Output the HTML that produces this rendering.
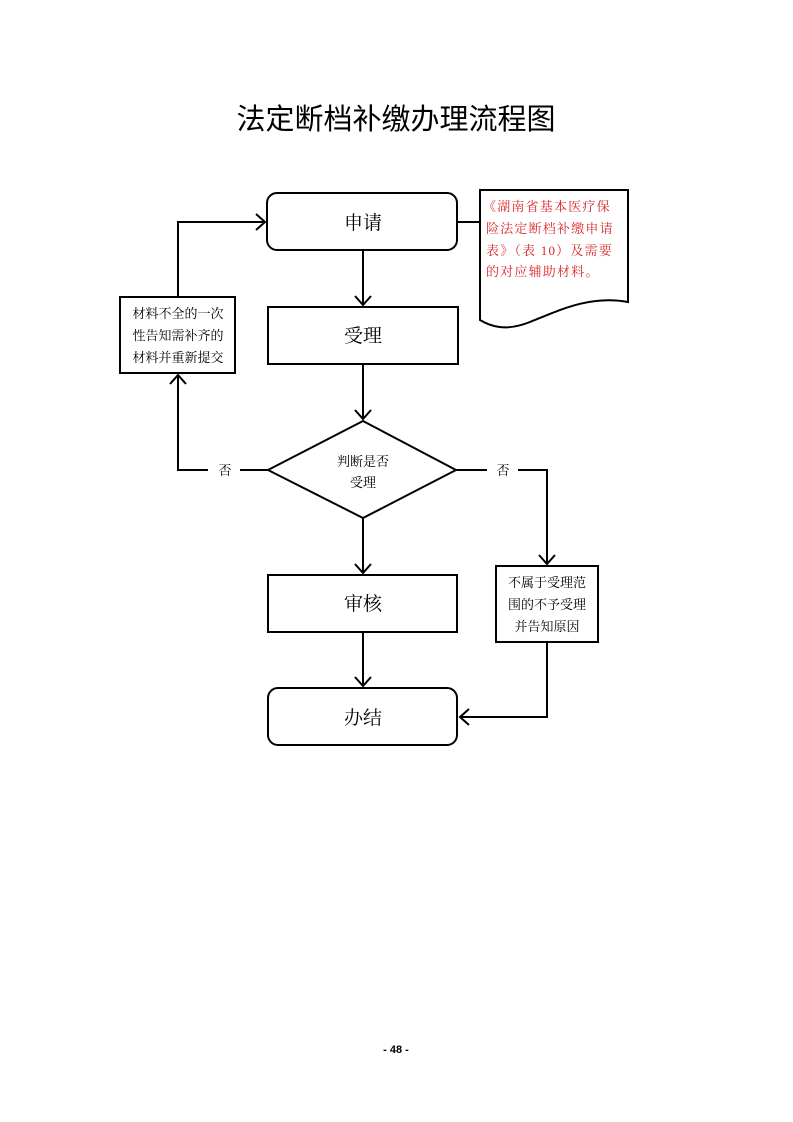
<!DOCTYPE html>
<html><head><meta charset="utf-8"><style>
html,body{margin:0;padding:0;background:#fff;}
body{width:793px;height:1122px;position:relative;overflow:hidden;}
svg{position:absolute;left:0;top:0;}
text{font-family:"Liberation Serif","Noto Serif CJK SC","Noto Sans CJK SC",serif;}
</style></head><body>
<svg width="793" height="1122" viewBox="0 0 793 1122">
<text x="396" y="129" font-size="29" text-anchor="middle" style="font-family:'Liberation Sans','Noto Sans CJK SC',sans-serif">法定断档补缴办理流程图</text>
<g fill="none" stroke="#000" stroke-width="2">
<rect x="267" y="193" width="190" height="57" rx="10"/>
<rect x="268" y="307" width="190" height="57"/>
<polygon points="268,470 363,421 456,470 363,518"/>
<rect x="268" y="575" width="189" height="57"/>
<rect x="268" y="688" width="189" height="57" rx="10"/>
<rect x="120" y="297" width="115" height="76"/>
<rect x="496" y="566" width="102" height="76"/>
<path d="M480,190 L628,190 L628,302 C590,295 560,310 530,322 C505,332 490,326 480,320 Z"/>
<path d="M458,222 L480,222"/>
<path d="M363,250 L363,305 M355,296 L363,305 L371,296"/>
<path d="M363,364 L363,419 M355,410 L363,419 L371,410"/>
<path d="M363,518 L363,573 M355,564 L363,573 L371,564"/>
<path d="M363,632 L363,686 M355,677 L363,686 L371,677"/>
<path d="M268,470 L240,470 M208,470 L178,470 L178,375 M170,384 L178,375 L186,384"/>
<path d="M178,297 L178,222 L265,222 M256,214 L265,222 L256,230"/>
<path d="M456,470 L487,470 M518,470 L547,470 L547,564 M539,555 L547,564 L555,555"/>
<path d="M547,642 L547,717 L460,717 M469,709 L460,717 L469,725"/>
</g>
<g font-size="19" text-anchor="middle" fill="#000">
<text x="363" y="229">申请</text>
<text x="363" y="342">受理</text>
<text x="363" y="610">审核</text>
<text x="363" y="724">办结</text>
</g>
<g font-size="13" text-anchor="middle" fill="#000">
<text x="363" y="466">判断是否</text>
<text x="363" y="487">受理</text>
<text x="225" y="475">否</text>
<text x="503" y="475">否</text>
<text x="178" y="318">材料不全的一次</text>
<text x="178" y="340">性告知需补齐的</text>
<text x="178" y="362">材料并重新提交</text>
<text x="547" y="587">不属于受理范</text>
<text x="547" y="609">围的不予受理</text>
<text x="547" y="631">并告知原因</text>
</g>
<g font-size="13" fill="#d9262b" style="letter-spacing:1.2px">
<text x="483" y="211">《湖南省基本医疗保</text>
<text x="486" y="233">险法定断档补缴申请</text>
<text x="486" y="255">表》（表 10）及需要</text>
<text x="486" y="276">的对应辅助材料。</text>
</g>
<text x="396" y="1053" font-size="11" font-weight="bold" text-anchor="middle" style="font-family:'Liberation Sans',sans-serif">- 48 -</text>
</svg>
</body></html>
